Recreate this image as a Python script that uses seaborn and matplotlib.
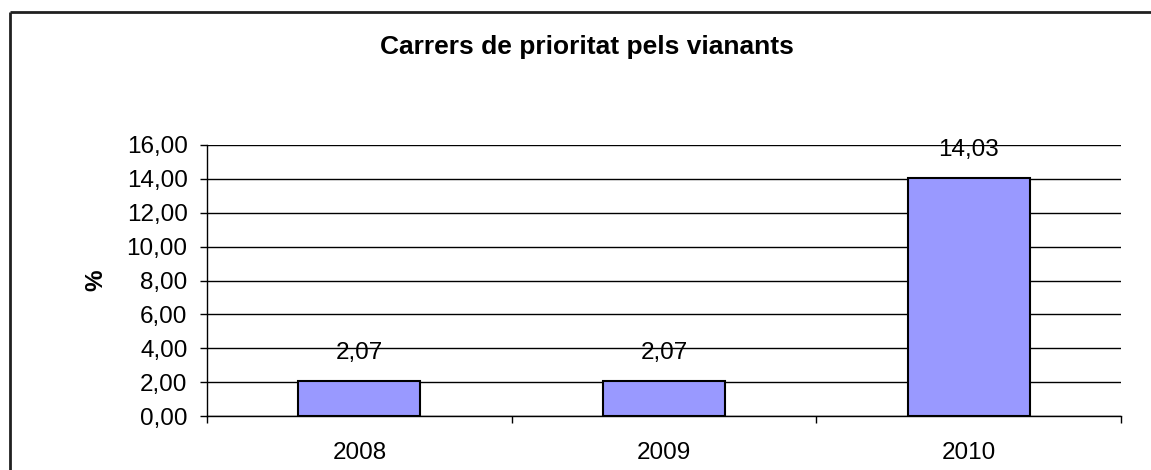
import numpy as np
import pandas as pd
import matplotlib
matplotlib.use("Agg")
import matplotlib.pyplot as plt
import matplotlib.ticker as mticker
from matplotlib.lines import Line2D
import seaborn as sns

years = ["2008", "2009", "2010"]
percent = [2.07, 2.07, 14.03]
yticks = [0, 2, 4, 6, 8, 10, 12, 14, 16]

df = pd.DataFrame({"year": years, "pct": percent})

sns.set_style("white")
plt.rcParams["font.family"] = ["Liberation Sans", "DejaVu Sans"]
plt.rcParams["text.color"] = "black"
plt.rcParams["xtick.color"] = "black"
plt.rcParams["ytick.color"] = "black"
plt.rcParams["axes.labelcolor"] = "black"

fig = plt.figure(figsize=(11.51, 4.70), dpi=100)
ax = fig.add_axes([207 / 1151, 1 - 416 / 470, (1121 - 207) / 1151, (416 - 145) / 470])

sns.barplot(data=df, x="year", y="pct", color="#9999FF", saturation=1,
            width=0.4, edgecolor="black", linewidth=1.5, ax=ax, zorder=3)

ax.set_ylim(0, 16)
ax.set_xlim(-0.5, 2.5)
ax.set_yticks(yticks)
ax.yaxis.set_major_formatter(mticker.FuncFormatter(lambda v, p: f"{v:.2f}".replace(".", ",")))
ax.grid(axis="y", color="black", linewidth=1, zorder=0)
ax.set_axisbelow(True)

for s in ["top", "right"]:
    ax.spines[s].set_visible(False)
for s in ["left", "bottom"]:
    ax.spines[s].set_color("black")
    ax.spines[s].set_linewidth(1)

ax.tick_params(axis="y", which="major", direction="out", length=5, width=1,
               labelsize=17.5, pad=9, left=True)
ax.set_xticks([-0.5, 0.5, 1.5, 2.5], minor=True)
ax.tick_params(axis="x", which="minor", direction="out", length=5, width=1, bottom=True)
ax.tick_params(axis="x", which="major", length=0, labelsize=17.5, pad=19)

ax.set_xlabel("")
ax.set_ylabel("%", fontsize=17.5, fontweight="bold", labelpad=14)

for i, v in enumerate(percent):
    ax.annotate(f"{v:.2f}".replace(".", ","), (i, v), xytext=(0, 16),
                textcoords="offset points", ha="center", va="baseline", fontsize=17.5)

fig.text(587 / 1151, 1 - 47 / 470, "Carrers de prioritat pels vianants",
         ha="center", va="center", fontsize=19, fontweight="bold")

# chart-area border: only top and left edges fall inside the picture
bx, by = 9.5 / 1151, 1 - 11.5 / 470
fig.add_artist(Line2D([bx, 1.02], [by, by], transform=fig.transFigure, color="#202020",
                      linewidth=2, solid_capstyle="butt"))
fig.add_artist(Line2D([bx, bx], [-0.02, by], transform=fig.transFigure, color="#202020",
                      linewidth=2, solid_capstyle="butt"))

fig.savefig("out.png", dpi=100)
